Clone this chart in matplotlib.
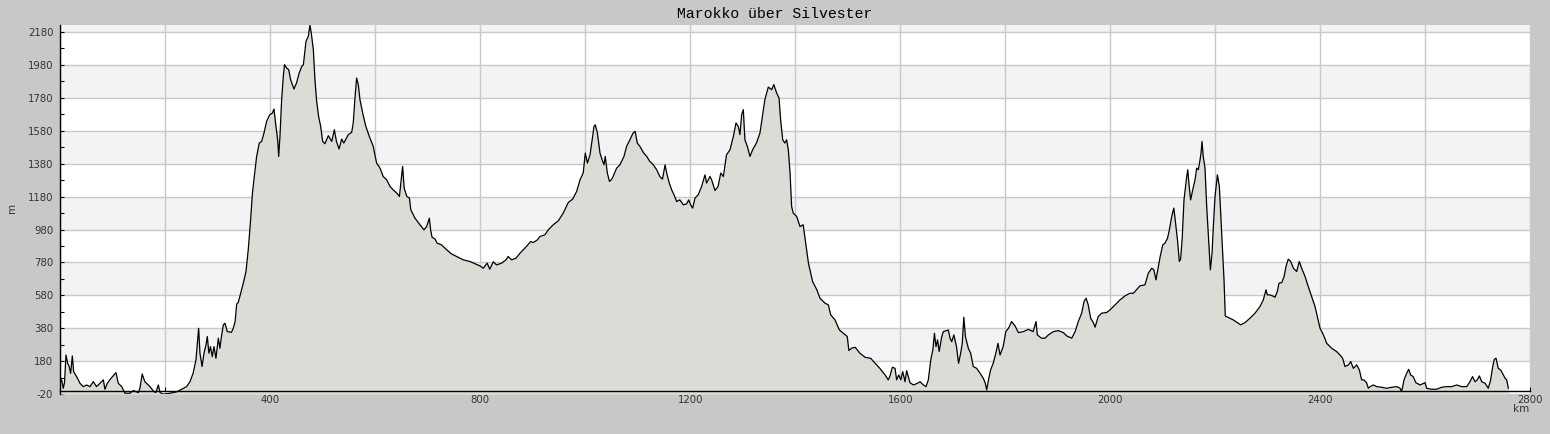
import numpy as np
import matplotlib
matplotlib.use("Agg")
import matplotlib.pyplot as plt

plt.rcParams["axes.unicode_minus"] = False

# ---- data: distance (km) and elevation (m) ----
km = [0, 2.5, 5.7, 8, 10.8, 14, 17, 19.7, 22.9, 25.4, 31, 37.5, 43.8, 50, 56.5, 62.9, 69, 75.5, 82, 85,
      89.5, 97.8, 106, 110.5, 117, 123, 132.7, 139, 148.6, 151.7, 156, 161, 170.8, 178, 182, 186.7, 190, 196,
      209, 221.6, 231, 240.6, 247, 253, 258.4, 261, 263.5, 266, 270, 273.7, 277.5, 280, 283, 286, 289.5,
      292.7, 296.5, 301, 304, 307, 310.5, 313.7, 318, 326, 329.5, 333, 336, 339, 343.5, 348.6, 353.7, 358,
      362.5, 366, 369.5, 374, 379, 383.5, 388, 393, 399, 404, 407, 410.8, 414, 416, 418.4, 421.6, 424.8,
      427, 431, 435, 438.7, 445, 450, 455, 460, 463, 468, 472.4, 475.5, 478, 482, 485, 488, 492, 496,
      499.7, 504, 510.5, 517, 522, 526, 531, 536, 540, 548.6, 555, 558, 561, 564.4, 567.6, 570.8, 576,
      582, 588.6, 596, 602.5, 609, 615, 621.6, 628, 634, 641, 646, 649, 652, 655, 660, 665, 667.6, 675.6,
      685, 692.7, 697.8, 702.9, 705.4, 708, 713.7, 718, 726, 736, 745, 755, 767.6, 780, 790, 799.4, 805.7,
      813, 818, 824.8, 831, 840.7, 849, 853, 859.7, 868, 875.6, 885, 896, 901, 908.6, 913.7, 923, 929.5,
      939, 948.6, 958, 967.6, 976, 983.5, 990, 996, 1000, 1004, 1009, 1014, 1016.5, 1019, 1023, 1028,
      1032, 1035.6, 1038, 1042, 1046, 1049.5, 1053, 1059.7, 1066, 1073.7, 1078.7, 1085, 1091, 1095, 1099,
      1104, 1110.5, 1117, 1123, 1129.5, 1136, 1142, 1147, 1152, 1155, 1160, 1164.5, 1169, 1174, 1180,
      1186.7, 1193, 1197, 1200.6, 1204.5, 1209, 1215, 1221.6, 1228, 1231, 1237.5, 1240.6, 1247, 1253,
      1258, 1263, 1269, 1275.6, 1282, 1287, 1291.4, 1294.6, 1297.8, 1301, 1304, 1308.6, 1313.7, 1318.7,
      1326, 1332.7, 1337.8, 1342, 1348.6, 1355, 1359, 1364.5, 1369, 1372, 1376, 1380, 1383.5, 1386.7,
      1390, 1393, 1396, 1402.6, 1409, 1415, 1418.5, 1425, 1433, 1441, 1447, 1456.6, 1463, 1467.4, 1475.7,
      1484, 1491.5, 1499, 1502, 1507, 1514, 1523, 1533, 1543.6, 1552, 1561, 1571, 1577, 1580, 1585, 1590,
      1593, 1597, 1601, 1604.6, 1609, 1612, 1618.5, 1625, 1632.5, 1637.6, 1644, 1649, 1653.4, 1658, 1662,
      1665, 1668, 1671, 1674, 1679, 1682, 1688, 1691.5, 1694.7, 1698, 1702, 1707, 1711, 1715, 1718, 1721,
      1724, 1729.6, 1734, 1739, 1745.5, 1752, 1758, 1762, 1764.6, 1768, 1772, 1777, 1782, 1786, 1790,
      1796, 1801, 1806, 1812, 1818.5, 1825, 1834.5, 1844, 1853, 1858.5, 1861, 1869, 1875.7, 1882, 1891.5,
      1901, 1910.6, 1917, 1926.5, 1933, 1939, 1945.5, 1950, 1954, 1958, 1962.6, 1967.7, 1971, 1977,
      1983.6, 1993, 1999.5, 2009, 2018.5, 2028, 2037.6, 2044, 2050, 2056.6, 2066, 2072.5, 2079, 2083,
      2087, 2091.5, 2095, 2100, 2104, 2109, 2112.5, 2117, 2121, 2125, 2128, 2131.5, 2134, 2137, 2140.4,
      2145.5, 2147.5, 2150, 2153, 2157, 2161.4, 2164.5, 2167.7, 2171, 2172.8, 2174.7, 2177, 2180.4,
      2183.6, 2187.4, 2190.6, 2193.8, 2196.3, 2199.5, 2204, 2207.7, 2210.3, 2213.4, 2216.6, 2219, 2228,
      2234.4, 2242, 2248.4, 2256.6, 2266, 2275.7, 2285, 2291.5, 2296.6, 2299, 2304, 2309, 2313.8, 2318,
      2321.4, 2326.5, 2331, 2334.7, 2339, 2343.6, 2348.7, 2355, 2360, 2364.5, 2371, 2377, 2383.6, 2390,
      2394.4, 2399.5, 2406, 2412.2, 2421.7, 2431, 2437.6, 2442.6, 2447, 2453.5, 2458, 2463, 2469.3,
      2474.4, 2478.8, 2483, 2488, 2491.5, 2494.7, 2501, 2507.4, 2517, 2526.5, 2536, 2545.5, 2552, 2555,
      2559.5, 2564.5, 2568.4, 2572, 2577, 2582, 2590, 2599.5, 2602.6, 2612, 2621.7, 2631, 2640.7, 2650,
      2660, 2669.3, 2679, 2685, 2690, 2694.7, 2699, 2703, 2707.4, 2714, 2720, 2724.5, 2728.4, 2731.5,
      2734.7, 2739, 2743.6, 2748.7, 2752, 2755, 2758.2]

elev = [50, 67, 16, 50, 218, 168, 148, 107, 212, 117, 87, 46, 26, 36, 26, 56, 26, 46, 67, 10,
        46, 81, 111, 46, 26, -14, -14, 2, -10, 16, 103, 56, 26, -4, -10, 36, -10, -20,
        -14, -6, 10, 26, 56, 107, 188, 289, 380, 229, 148, 229, 279, 330, 229, 269, 208,
        269, 198, 320, 259, 330, 401, 411, 360, 356, 380, 421, 528, 537, 593, 654, 725, 857,
        1039, 1201, 1302, 1424, 1505, 1515, 1566, 1637, 1677, 1687, 1712, 1606, 1525, 1424, 1545, 1768, 1910,
        1981, 1961, 1951, 1890, 1833, 1870, 1930, 1971, 1981, 2123, 2153, 2220, 2174, 2072, 1890, 1768, 1667, 1606,
        1515, 1501, 1550, 1515, 1586, 1515, 1469, 1529, 1505, 1556, 1570, 1627, 1768, 1900, 1860, 1768, 1687,
        1606, 1545, 1485, 1383, 1353, 1302, 1282, 1242, 1221, 1201, 1181, 1272, 1363, 1231, 1181, 1171, 1100, 1049,
        1009, 978, 998, 1049, 978, 934, 922, 897, 887, 857, 832, 816, 796, 786, 772, 759, 745,
        776, 739, 784, 765, 776, 796, 816, 796, 806, 836, 867, 907, 901, 917, 938, 948, 978,
        1009, 1033, 1080, 1144, 1165, 1211, 1282, 1323, 1444, 1383, 1434, 1545, 1606, 1616, 1566, 1444,
        1404, 1373, 1424, 1323, 1272, 1282, 1302, 1353, 1373, 1424, 1485, 1525, 1566, 1576, 1505,
        1485, 1448, 1424, 1393, 1373, 1343, 1302, 1286, 1373, 1323, 1262, 1221, 1191, 1150, 1160,
        1130, 1136, 1160, 1130, 1110, 1171, 1191, 1242, 1312, 1262, 1302, 1282, 1217, 1242,
        1323, 1302, 1434, 1464, 1545, 1627, 1606, 1556, 1677, 1708, 1525, 1485, 1424, 1464,
        1505, 1566, 1677, 1768, 1845, 1829, 1860, 1809, 1778, 1647, 1525, 1505, 1525, 1464,
        1323, 1120, 1080, 1059, 998, 1009, 927, 776, 664, 614, 563, 533, 522, 462, 431,
        370, 350, 330, 245, 259, 265, 229, 204, 198, 168, 137, 97, 67, 87, 144, 137,
        67, 97, 67, 117, 56, 123, 50, 36, 46, 56, 36, 26, 67, 188, 249,
        350, 269, 310, 239, 330, 360, 366, 370, 320, 299, 340, 269, 168, 229, 289, 447,
        330, 259, 229, 148, 137, 107, 77, 46, 6, 67, 127, 168, 229, 289, 218,
        269, 360, 380, 421, 395, 354, 360, 374, 360, 421, 340, 320, 320, 340, 360,
        366, 354, 334, 320, 360, 421, 472, 543, 563, 522, 441, 415, 387, 451,
        472, 476, 492, 522, 553, 577, 593, 593, 614, 638, 644, 715, 745, 735,
        674, 755, 816, 887, 897, 927, 978, 1059, 1110, 998, 917, 786, 800, 930, 1160,
        1300, 1343, 1250, 1160, 1221, 1282, 1353, 1343, 1404, 1444, 1515, 1424, 1353,
        1120, 917, 735, 836, 998, 1181, 1312, 1242, 1080, 877, 674, 455, 441,
        431, 415, 401, 415, 441, 472, 512, 553, 614, 583, 583, 577, 569, 603,
        654, 658, 694, 755, 800, 786, 745, 725, 786, 745, 694, 634, 573, 512,
        451, 380, 340, 289, 259, 239, 218, 198, 148, 158, 178, 137, 158,
        127, 67, 67, 50, 16, 26, 36, 26, 22, 16, 22, 26, 16, -4,
        67, 107, 131, 97, 87, 50, 36, 50, 16, 10, 10, 22, 26, 26,
        36, 26, 26, 56, 87, 56, 67, 91, 56, 46, 16, 67, 148, 192,
        198, 137, 127, 97, 77, 67, 16]

x_major = list(range(0, 2801, 200))
x_labels = [str(v) if (v % 400 == 0 and v > 0) else "" for v in x_major]
y_major = list(range(-20, 2181, 200))
title = "Marokko über Silvester"

# ---- styling ----
W, H = 1550, 434
BG = "#c8c8c8"
BAND = "#f3f2f5"
FILL = "#dcdcd7"
GRID = "#c8c8c8"

fig = plt.figure(figsize=(W / 100, H / 100), dpi=100, facecolor=BG)
left, right, top, bottom = 60.3, 1530.3, 25.0, 394.2
ax = fig.add_axes([left / W, (H - bottom) / H, (right - left) / W, (bottom - top) / H])
ax.set_facecolor("white")
ax.set_xlim(0, 2800)
ax.set_ylim(-20, 2222)

# alternating bands
for lo in y_major[1::2]:
    ax.axhspan(lo, lo + 200, color=BAND, lw=0, zorder=0.1)

ax.set_xticks(x_major)
ax.set_xticklabels(x_labels)
ax.set_xticks(list(range(100, 2800, 200)), minor=True)
ax.set_yticks(y_major)
ax.set_yticks(list(range(80, 2181, 200)), minor=True)

ax.grid(True, which="major", color=GRID, lw=1.0, zorder=0.5)
ax.set_axisbelow(True)

ax.fill_between(km, elev, -20, color=FILL, lw=0, zorder=1)
ax.plot(km, elev, color="black", lw=0.9, zorder=2)

for s in ("top", "right"):
    ax.spines[s].set_visible(False)
ax.spines["left"].set_color("black")
ax.spines["left"].set_linewidth(1.0)
ax.spines["bottom"].set_position(("data", 0))
ax.spines["bottom"].set_color("black")
ax.spines["bottom"].set_linewidth(1.0)
ax.spines["bottom"].set_zorder(3)

ax.tick_params(axis="both", which="both", direction="in", length=3, width=0.8,
               color="black", labelsize=7.3, labelcolor="#333333")
ax.tick_params(axis="y", pad=5)
ax.tick_params(axis="x", pad=3)

fig.text(0.5, 1 - 14 / H, title, ha="center", va="center",
         family="Liberation Mono", fontsize=10.7, color="black")
fig.text(11.5 / W, 1 - 208 / H, "m", rotation=90, ha="center", va="center",
         fontsize=7.5, color="#333333")
fig.text(1521 / W, 1 - 409.5 / H, "km", ha="center", va="center",
         fontsize=7.5, color="#333333")

fig.savefig("out.png", dpi=100, facecolor=BG)
